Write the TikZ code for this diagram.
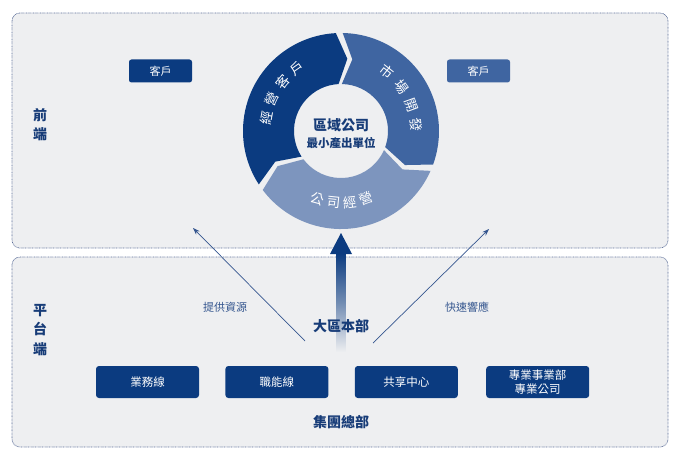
\documentclass[tikz,border=0pt]{standalone}
\usepackage{fontspec}
\setmainfont{Noto Sans CJK TC}
\usepackage{xcolor}
\usetikzlibrary{arrows.meta,positioning}
\definecolor{deepnavy}{HTML}{0B3B80}
\definecolor{midblue}{HTML}{3F65A1}
\definecolor{paleblue}{HTML}{7D95BE}
\definecolor{labelnavy}{HTML}{173C78}
\definecolor{panelgray}{HTML}{EEEFF1}
\definecolor{dotline}{HTML}{5C6E99}
\definecolor{thinline}{HTML}{35568F}

% one chevron piece of the cycle, clockwise from #1 to #2
\newcommand{\ringseg}[3]{%
  \fill[#3] (#1:98) arc[start angle=#1,end angle=#2,radius=98]
    -- ({#2-8}:72.5) -- (#2:47) arc[start angle=#2,end angle=#1,radius=47]
    -- ({#1-8}:72.5) -- cycle;}

\begin{document}
\begin{tikzpicture}[x=1pt,y=-1pt,
    panel/.style={fill=panelgray,draw=dotline,line width=0.7pt,
      dash pattern=on 0.7pt off 0.7pt,rounded corners=8pt},
    sidetag/.style={text=labelnavy,font=\fontsize{14}{19.5}\selectfont\bfseries,align=center},
    headtag/.style={text=labelnavy,font=\fontsize{14}{16}\selectfont\bfseries},
    custbox/.style={rounded corners=2.5pt,minimum width=63pt,minimum height=23pt,
      text=white,font=\fontsize{11}{13}\selectfont},
    linebox/.style={fill=deepnavy,rounded corners=3pt,minimum width=103pt,minimum height=32pt,
      text=white,align=center,font=\fontsize{11.5}{13}\selectfont},
    ringtxt/.style={text=white,inner sep=0pt,font=\fontsize{13.5}{14}\selectfont},
    flowtag/.style={text=thinline,font=\fontsize{11}{13}\selectfont},
    feed/.style={thinline,line width=0.7pt,-{Stealth[length=7pt,width=5pt]}}]
  \useasboundingbox (0,0) rectangle (676,457);

  % two layers
  \draw[panel] (12,13) rectangle (668,248);
  \draw[panel] (12,257) rectangle (668,447);
  \node[sidetag] (front) at (40,124.5) {前\\端};
  \node[sidetag] (platform) at (40,330) {平\\台\\端};

  \node[custbox,fill=deepnavy] (custL) at (160.5,71) {客戶};
  \node[custbox,fill=midblue] (custR) at (478.5,71) {客戶};

  % the cycle
  \begin{scope}[shift={(341,131)},y=1pt]
    \ringseg{213}{93}{deepnavy}
    \ringseg{89}{-20}{midblue}
    \ringseg{-24}{-143}{paleblue}
    \foreach \ch/\a in {經/170,營/155,客/140,戶/125}
      \node[ringtxt,rotate=\a-90] at (\a:76) {\ch};
    \foreach \ch/\a in {市/52,場/36,開/20,發/5}
      \node[ringtxt,rotate=\a-90] at (\a:75) {\ch};
    \foreach \ch/\a in {公/-109,司/-96,經/-83,營/-70}
      \node[ringtxt,rotate=\a+90] at (\a:72) {\ch};
    \node[headtag] (region) at (0,6) {區域公司};
    \node[text=labelnavy,font=\fontsize{11.5}{13}\selectfont\bfseries] (unit) at (0,-12) {最小產出單位};
  \end{scope}

  % rising arrow
  \coordinate (ringfoot) at (341,233);
  \coordinate (hqbase) at (341,352);
  \shade[top color=deepnavy,bottom color=panelgray,middle color=deepnavy!55!panelgray]
    ([xshift=-4.5pt,yshift=-20pt]ringfoot) rectangle ([xshift=4.5pt]hqbase);
  \fill[deepnavy] (ringfoot) -- ++(-11,21) -- ++(22,0) -- cycle;
  \node[headtag] (area) at (341,326) {大區本部};

  \coordinate (lfoot) at (305,341);
  \coordinate (ltop) at (193,228);
  \coordinate (rfoot) at (373,343);
  \coordinate (rtop) at (489,229);
  \draw[feed] (lfoot) -- (ltop);
  \draw[feed] (rfoot) -- (rtop);
  \node[flowtag] (give) at (225,307) {提供資源};
  \node[flowtag] (quick) at (467,307) {快速響應};

  % group units
  \node[linebox] (biz) at (147.5,382) {業務線};
  \node[linebox,right=26pt of biz] (func) {職能線};
  \node[linebox,right=26pt of func] (share) {共享中心};
  \node[linebox,right=28pt of share,font=\fontsize{11.5}{13.5}\selectfont] (pro) {專業事業部\\專業公司};
  \node[headtag] (group) at (341,422) {集團總部};
\end{tikzpicture}
\end{document}
